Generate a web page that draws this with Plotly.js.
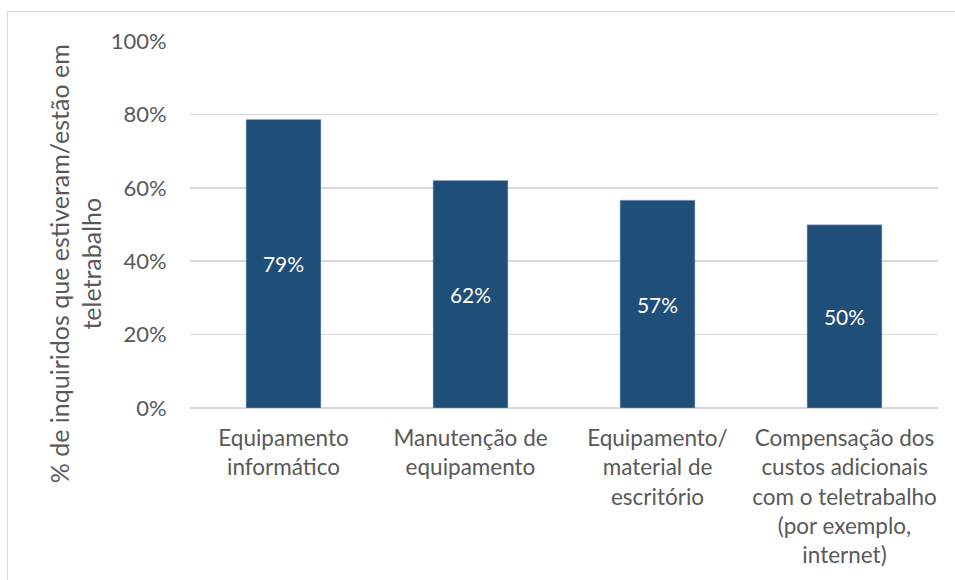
<!DOCTYPE html>
<html>
<head>
<meta charset="utf-8">
<script src="https://cdn.plot.ly/plotly-3.0.1.min.js"></script>
<style>
  html, body { margin: 0; padding: 0; background: #fff; }
  #frame { position: absolute; left: 7px; top: 11px; width: 960px; height: 580px; border-left: 1px solid #d9d9d9; border-top: 1px solid #d9d9d9; }
  #chart { position: absolute; left: 0; top: 0; width: 955px; height: 580px; }
</style>
</head>
<body>
<div id="frame"></div>
<div id="chart"></div>
<script>
const categories = [
  "Equipamento<br>informático",
  "Manutenção de<br>equipamento",
  "Equipamento/<br>material de<br>escritório",
  "Compensação dos<br>custos adicionais<br>com o teletrabalho<br>(por exemplo,<br>internet)"
];
const values = [78.6, 62.0, 56.6, 49.9];
const labels = ["79%", "62%", "57%", "50%"];
const yTitle = "% de inquiridos que estiveram/estão em<br>teletrabalho";

const font = "Lato, 'Open Sans', sans-serif";
const grey = "#595959";

const trace = {
  type: "bar",
  x: categories,
  y: values,
  text: labels,
  textposition: "inside",
  insidetextanchor: "middle",
  textangle: 0,
  textfont: { family: font, size: 21, color: "#ffffff" },
  marker: { color: "#1f4e79", line: { color: "#8faadc", width: 0.5 } },
  hoverinfo: "none"
};

const layout = {
  width: 955,
  height: 580,
  margin: { l: 190, r: 17, t: 41, b: 172, pad: 0 },
  paper_bgcolor: "rgba(0,0,0,0)",
  plot_bgcolor: "rgba(0,0,0,0)",
  bargap: 0.6,
  showlegend: false,
  font: { family: font, color: grey, size: 22 },
  xaxis: {
    type: "category",
    showgrid: false,
    showline: false,
    zeroline: false,
    ticks: "outside",
    ticklen: 10,
    tickcolor: "rgba(0,0,0,0)",
    tickfont: { family: font, size: 22.5, color: grey },
    automargin: false
  },
  yaxis: {
    range: [0, 100],
    dtick: 20,
    tick0: 0,
    ticksuffix: "%",
    showgrid: true,
    gridcolor: "#d9d9d9",
    gridwidth: 1.5,
    zeroline: true,
    zerolinecolor: "#d9d9d9",
    zerolinewidth: 1.5,
    showline: false,
    ticks: "outside",
    ticklen: 18,
    tickcolor: "rgba(0,0,0,0)",
    tickfont: { family: font, size: 22, color: grey },
    automargin: false
  },
  annotations: [{
    text: yTitle,
    xref: "paper", yref: "paper",
    x: -0.1537, y: 0.392,
    xanchor: "center", yanchor: "middle",
    textangle: -90,
    showarrow: false,
    font: { family: font, size: 25, color: grey }
  }]
};

Plotly.newPlot("chart", [trace], layout, { displayModeBar: false, staticPlot: true });
</script>
</body>
</html>
